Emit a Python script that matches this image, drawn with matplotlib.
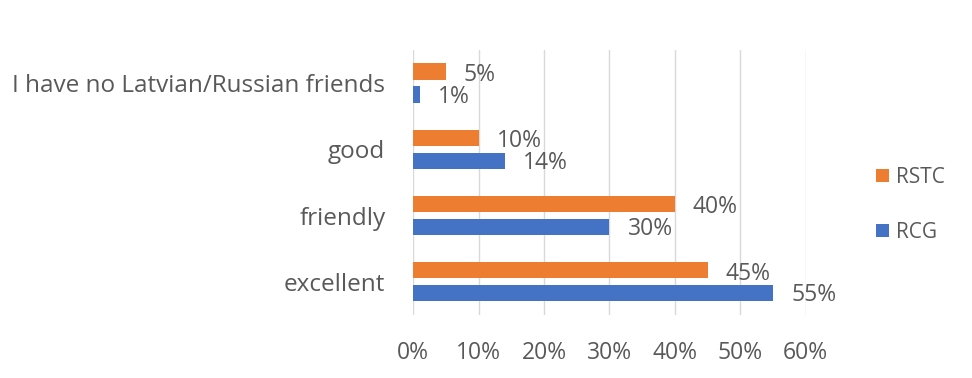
import matplotlib
matplotlib.use("Agg")
import matplotlib.pyplot as plt
import numpy as np

categories = ["excellent", "friendly", "good", "I have no Latvian/Russian friends"]
rstc = [45, 40, 10, 5]
rcg = [55, 30, 14, 1]
ticks = [0, 10, 20, 30, 40, 50, 60]
tick_labels = ["0%", "10%", "20%", "30%", "40%", "50%", "60%"]

orange = "#ED7D31"
blue = "#4472C4"
text_col = "#595959"

plt.rcParams["font.family"] = ["Open Sans", "DejaVu Sans"]

fig = plt.figure(figsize=(9.72, 3.78), dpi=100)
ax = fig.add_axes([0.425, 0.167, 0.404, 0.701])

y = np.arange(len(categories))
off = 0.175
h = 0.245
b1 = ax.barh(y + off, rstc, height=h, color=orange, label="RSTC", zorder=3)
b2 = ax.barh(y - off, rcg, height=h, color=blue, label="RCG", zorder=3)

for yy, v in zip(y + off, rstc):
    ax.annotate(f"{v}%", (v, yy), xytext=(13, -2.5), textcoords="offset points",
                ha="left", va="center", fontsize=16.5, color=text_col)
for yy, v in zip(y - off, rcg):
    ax.annotate(f"{v}%", (v, yy), xytext=(13, -1.5), textcoords="offset points",
                ha="left", va="center", fontsize=16.5, color=text_col)

ax.set_xlim(0, 60)
ax.set_ylim(-0.5, 3.5)
ax.set_xticks(ticks)
ax.set_xticklabels(tick_labels)
ax.set_yticks(y)
ax.set_yticklabels(categories, fontsize=17.5)
ax.tick_params(axis="x", length=0, pad=19, labelsize=16.5, labelcolor=text_col)
ax.tick_params(axis="y", length=0, pad=20, labelcolor=text_col)
ax.grid(axis="x", color="#D9D9D9", linewidth=1, zorder=0)
for s in ax.spines.values():
    s.set_visible(False)

leg = fig.legend(handles=[b1, b2], labels=["RSTC", "RCG"], loc="center left",
                 bbox_to_anchor=(0.882, 0.458), frameon=False, fontsize=15,
                 handlelength=0.6, handleheight=0.6, handletextpad=0.35,
                 labelspacing=1.6, labelcolor=text_col)

fig.savefig("out.png", dpi=100)
